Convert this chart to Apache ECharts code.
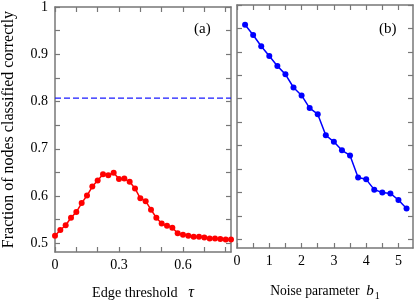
<!DOCTYPE html>
<html><head><meta charset="utf-8">
<script src="https://cdn.jsdelivr.net/npm/echarts@6/dist/echarts.min.js"></script>
<style>html,body{margin:0;padding:0;background:#fff}#c{width:415px;height:306px}</style>
</head><body><div id="c"></div>
<script>
// Panel (a): fraction classified correctly vs edge threshold tau
const tau = [0,0.025,0.05,0.075,0.1,0.125,0.15,0.175,0.2,0.225,0.25,0.275,0.3,0.325,0.35,0.375,0.4,0.425,0.45,0.475,0.5,0.525,0.55,0.575,0.6,0.625,0.65,0.675,0.7,0.725,0.75,0.775,0.8,0.825];
const fracA = [0.516,0.528,0.538,0.554,0.566,0.585,0.601,0.620,0.633,0.646,0.644,0.649,0.636,0.637,0.630,0.616,0.595,0.589,0.571,0.554,0.542,0.537,0.533,0.521,0.518,0.516,0.514,0.514,0.512,0.510,0.510,0.509,0.508,0.508];
const baselineA = 0.807;
// Panel (b): fraction classified correctly vs noise parameter b1
const b1 = [0.25,0.5,0.75,1,1.25,1.5,1.75,2,2.25,2.5,2.75,3,3.25,3.5,3.75,4,4.25,4.5,4.75,5,5.25];
const fracB = [0.958,0.936,0.912,0.891,0.870,0.852,0.824,0.807,0.780,0.767,0.722,0.708,0.690,0.679,0.632,0.628,0.606,0.600,0.598,0.584,0.566];
// ticks and labels
const yTicks = [0.5,0.55,0.6,0.65,0.7,0.75,0.8,0.85,0.9,0.95,1];
const yLabels = [0.5,0.6,0.7,0.8,0.9,1];
const xTicksA = [0,0.1,0.2,0.3,0.4,0.5,0.6,0.7,0.8];
const xLabelsA = [0,0.3,0.6];
const xTicksB = [0,0.5,1,1.5,2,2.5,3,3.5,4,4.5,5];
const xLabelsB = [0,1,2,3,4,5];

const FONT = 'Liberation Serif';
const AX = '#777';
function axisBase(extra){
  return Object.assign({
    axisLine:{show:true,onZero:false,lineStyle:{color:AX,width:1.5}},
    axisTick:{show:true,inside:true,length:5,lineStyle:{color:AX,width:1.2}},
    splitLine:{show:false},
    axisLabel:{show:false}
  }, extra);
}
function xAx(grid,pos,min,max,ticks,labels,name){
  const o = axisBase({type:'value',gridIndex:grid,position:pos,min:min,max:max});
  o.axisTick.customValues = ticks;
  if(labels){
    o.axisLabel = {show:true,customValues:labels,color:'#000',fontFamily:FONT,fontSize:14,margin:6};
  }
  if(name){ Object.assign(o,name); }
  return o;
}
function yAx(grid,pos,labels,name){
  const o = axisBase({type:'value',gridIndex:grid,position:pos,min:0.4815,max:1});
  o.axisTick.customValues = yTicks;
  if(labels){
    o.axisLabel = {show:true,customValues:labels,color:'#000',fontFamily:FONT,fontSize:14,margin:7};
  }
  if(name){ Object.assign(o,name); }
  return o;
}
const chart = echarts.init(document.getElementById('c'),null,{renderer:'canvas'});
chart.setOption({
  animation:false,
  backgroundColor:'#fff',
  grid:[
    {left:54,top:5,width:177,height:252},
    {left:237,top:5,width:176,height:252}
  ],
  xAxis:[
    xAx(0,'bottom',0,0.825,xTicksA,xLabelsA,{
      name:'Edge threshold   {i|τ}',nameLocation:'middle',nameGap:33,
      nameTextStyle:{color:'#000',fontFamily:FONT,fontSize:14.2,rich:{i:{fontStyle:'italic',fontFamily:FONT,fontSize:16,color:'#000'}}}
    }),
    xAx(0,'top',0,0.825,xTicksA,null),
    xAx(1,'bottom',0,5.45,xTicksB,xLabelsB,{
      name:'Noise parameter  {i|b}{s|1}',nameLocation:'middle',nameGap:33,
      nameTextStyle:{color:'#000',fontFamily:FONT,fontSize:13.6,
        rich:{i:{fontStyle:'italic',fontFamily:FONT,fontSize:15,color:'#000'},
              s:{fontFamily:FONT,fontSize:10,color:'#000',padding:[10,0,0,1]}}}
    }),
    xAx(1,'top',0,5.45,xTicksB,null)
  ],
  yAxis:[
    yAx(0,'left',yLabels,{
      name:'Fraction of nodes classified correctly',nameLocation:'middle',nameGap:38,
      nameTextStyle:{color:'#000',fontFamily:FONT,fontSize:16}
    }),
    yAx(0,'right',null),
    yAx(1,'left',null),
    yAx(1,'right',null)
  ],
  series:[
    {type:'line',xAxisIndex:0,yAxisIndex:0,
     data:[[tau[0],baselineA],[tau[tau.length-1],baselineA]],
     symbol:'none',clip:false,silent:true,
     lineStyle:{color:'#1a1aff',type:[6,3],width:1.3}},
    {type:'line',xAxisIndex:0,yAxisIndex:0,data:tau.map((t,i)=>[t,fracA[i]]),
     symbol:'circle',symbolSize:6,clip:false,
     lineStyle:{color:'#ff0000',width:1.5},itemStyle:{color:'#ff0000'}},
    {type:'line',xAxisIndex:2,yAxisIndex:2,data:b1.map((b,i)=>[b,fracB[i]]),
     symbol:'circle',symbolSize:6,clip:false,
     lineStyle:{color:'#0000ff',width:1.5},itemStyle:{color:'#0000ff'}}
  ],
  graphic:[
    {type:'text',left:194,top:22,style:{text:'(a)',font:'15px "Liberation Serif"',fill:'#000'}},
    {type:'text',left:379,top:22,style:{text:'(b)',font:'15px "Liberation Serif"',fill:'#000'}}
  ]
});
</script></body></html>
